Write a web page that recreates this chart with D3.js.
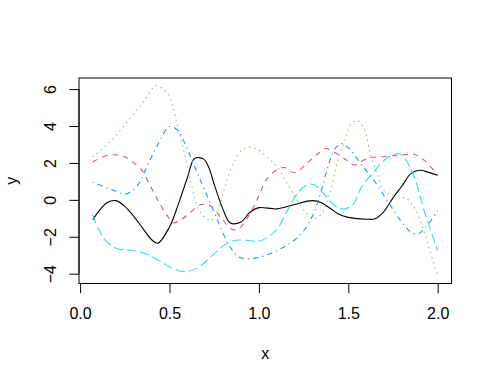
<!DOCTYPE html>
<html>
<head>
<meta charset="utf-8">
<script src="https://cdn.jsdelivr.net/npm/d3@7"></script>
<style>
  html, body { margin: 0; padding: 0; background: #fff; }
  svg { display: block; font-family: "Liberation Sans", Arial, Helvetica, sans-serif; }
</style>
</head>
<body>
<svg id="chart" width="492" height="382"></svg>
<script>
// values, [x, y]
var blackLine = [[0.071,-1.07],[0.15,-0.16],[0.2,-0.04],[0.25,-0.35],[0.3,-0.89],[0.35,-1.53],[0.4,-2.16],[0.435,-2.35],[0.5,-1.47],[0.55,-0.22],[0.6,1.2],[0.64,2.24],[0.69,2.22],[0.72,1.75],[0.75,0.84],[0.8,-0.53],[0.84,-1.25],[0.9,-1.2],[0.95,-0.67],[1.0,-0.42],[1.1,-0.49],[1.2,-0.25],[1.3,-0.04],[1.35,-0.16],[1.4,-0.47],[1.45,-0.8],[1.5,-0.95],[1.6,-1.05],[1.65,-1.02],[1.7,-0.62],[1.75,0.11],[1.8,0.75],[1.85,1.42],[1.9,1.6],[1.95,1.49],[2.0,1.33]];
var redLine = [[0.071,2.07],[0.15,2.4],[0.2,2.44],[0.25,2.33],[0.3,2.0],[0.342,1.65],[0.38,1.0],[0.417,0.29],[0.45,-0.3],[0.49,-0.89],[0.52,-1.25],[0.56,-1.1],[0.603,-0.8],[0.677,-0.25],[0.733,-0.34],[0.789,-0.98],[0.855,-1.62],[0.892,-1.53],[0.947,-0.8],[0.995,0.11],[1.027,0.84],[1.05,1.2],[1.105,1.65],[1.143,1.75],[1.2,1.47],[1.272,2.02],[1.338,2.56],[1.374,2.78],[1.44,2.47],[1.496,2.11],[1.534,1.89],[1.607,2.25],[1.7,2.35],[1.812,2.44],[1.868,2.47],[1.924,2.15],[2.0,1.33]];
var greenLine = [[0.071,2.33],[0.174,3.2],[0.268,4.29],[0.36,5.38],[0.426,6.19],[0.49,5.75],[0.519,5.02],[0.547,3.93],[0.585,2.47],[0.622,0.83],[0.668,-0.62],[0.715,-1.07],[0.733,-1.13],[0.77,-0.62],[0.808,0.65],[0.855,1.93],[0.9,2.66],[0.947,2.87],[0.994,2.72],[1.05,2.29],[1.105,1.75],[1.161,0.84],[1.217,-0.07],[1.273,-0.8],[1.31,-1.02],[1.347,-0.8],[1.394,0.29],[1.44,2.11],[1.48,3.2],[1.515,4.1],[1.552,4.29],[1.589,3.84],[1.626,2.4],[1.663,1.38],[1.693,0.6],[1.73,0.3],[1.786,0.09],[1.82,0.12],[1.86,-0.3],[1.89,-0.85],[1.924,-1.71],[1.954,-2.71],[2.0,-4.12]];
var blueLine = [[0.071,0.96],[0.175,0.56],[0.26,0.33],[0.325,0.84],[0.38,1.93],[0.436,3.02],[0.5,3.97],[0.547,3.75],[0.603,2.66],[0.659,1.38],[0.715,0.11],[0.771,-1.16],[0.827,-2.35],[0.883,-3.07],[0.939,-3.2],[0.995,-3.13],[1.07,-2.89],[1.144,-2.53],[1.218,-2.03],[1.274,-1.35],[1.311,-0.62],[1.348,0.47],[1.385,1.75],[1.423,2.74],[1.46,3.05],[1.497,2.84],[1.53,2.5],[1.572,1.93],[1.646,1.02],[1.72,-0.07],[1.795,-1.16],[1.85,-1.75],[1.888,-1.85],[1.944,-1.35],[2.0,-0.58]];
var cyanLine = [[0.071,-0.8],[0.1,-1.53],[0.147,-2.25],[0.212,-2.66],[0.286,-2.73],[0.361,-2.89],[0.436,-3.26],[0.525,-3.75],[0.59,-3.89],[0.659,-3.67],[0.733,-3.07],[0.808,-2.44],[0.864,-2.2],[0.939,-2.2],[0.995,-2.25],[1.05,-2.03],[1.106,-1.53],[1.162,-0.53],[1.218,0.38],[1.274,0.84],[1.311,0.8],[1.367,0.29],[1.423,-0.31],[1.48,-0.49],[1.53,-0.2],[1.572,0.65],[1.646,1.57],[1.72,2.29],[1.776,2.51],[1.813,2.29],[1.87,1.2],[1.925,-0.62],[2.0,-2.76]];

var xTicks = [0, 0.5, 1, 1.5, 2];
var yTicks = [-4, -2, 0, 2, 4, 6];

// R palette / lty order
var series = [
  { data: blackLine, color: '#000000', dash: null },
  { data: redLine,   color: '#DF536B', dash: '5.3,5.3' },
  { data: greenLine, color: '#61D04F', dash: '1.3,4' },
  { data: blueLine,  color: '#2297E6', dash: '1.3,4,5.3,4' },
  { data: cyanLine,  color: '#28E2E5', dash: '9.3,4' }
];

var plot = { left: 79, right: 451.5, top: 78, bottom: 283.5 };
var svg = d3.select('#chart');

// R style 4% padding around the data range
var all = d3.merge(series.map(function (s) { return s.data; }));
var xe = d3.extent(all, function (d) { return d[0]; }),
    ye = d3.extent(all, function (d) { return d[1]; }),
    xp = (xe[1] - xe[0]) * 0.04,
    yp = (ye[1] - ye[0]) * 0.04;

var x = d3.scaleLinear().domain([xe[0] - xp, xe[1] + xp]).range([plot.left, plot.right]);
var y = d3.scaleLinear().domain([ye[0] - yp, ye[1] + yp]).range([plot.bottom, plot.top]);

var line = d3.line()
    .x(function (d) { return x(d[0]); })
    .y(function (d) { return y(d[1]); })
    .curve(d3.curveCatmullRom.alpha(0.5));

svg.append('g').selectAll('path')
    .data(series)
  .enter().append('path')
    .attr('d', function (s) { return line(s.data); })
    .attr('fill', 'none')
    .attr('stroke', function (s) { return s.color; })
    .attr('stroke-width', 1.1)
    .attr('stroke-dasharray', function (s) { return s.dash; });

// box
svg.append('rect')
    .attr('x', plot.left).attr('y', plot.top)
    .attr('width', plot.right - plot.left).attr('height', plot.bottom - plot.top)
    .attr('fill', 'none').attr('stroke', '#000').attr('stroke-width', 1);

// x axis
var gx = svg.append('g')
    .attr('transform', 'translate(0,' + plot.bottom + ')')
    .call(d3.axisBottom(x).tickValues(xTicks).tickSize(9.6).tickFormat(d3.format('.1f')));
gx.select('.domain').remove();
gx.append('line')
    .attr('x1', x(xTicks[0])).attr('x2', x(xTicks[xTicks.length - 1]))
    .attr('stroke', '#000');
gx.selectAll('text')
    .attr('y', 35.5).attr('dy', 0)
    .attr('fill', '#000').style('font-size', '16px');

// y axis, labels parallel to the axis
var gy = svg.append('g')
    .attr('transform', 'translate(' + plot.left + ',0)')
    .call(d3.axisLeft(y).tickValues(yTicks).tickSize(9.6).tickFormat(d3.format('d')));
gy.select('.domain').remove();
gy.append('line')
    .attr('y1', y(yTicks[0])).attr('y2', y(yTicks[yTicks.length - 1]))
    .attr('stroke', '#000');
gy.selectAll('.tick text')
    .attr('x', null).attr('dy', 0)
    .attr('text-anchor', 'middle')
    .attr('transform', 'translate(-23.5,0) rotate(-90)')
    .attr('fill', '#000').style('font-size', '16px');
svg.selectAll('.tick line').attr('stroke', '#000');

// axis titles
svg.append('text')
    .attr('x', (plot.left + plot.right) / 2).attr('y', 358.5)
    .attr('text-anchor', 'middle').style('font-size', '16px')
    .text('x');
svg.append('text')
    .attr('transform', 'translate(16.5,' + (plot.top + plot.bottom) / 2 + ') rotate(-90)')
    .attr('text-anchor', 'middle').style('font-size', '16px')
    .text('y');
</script>
</body>
</html>
